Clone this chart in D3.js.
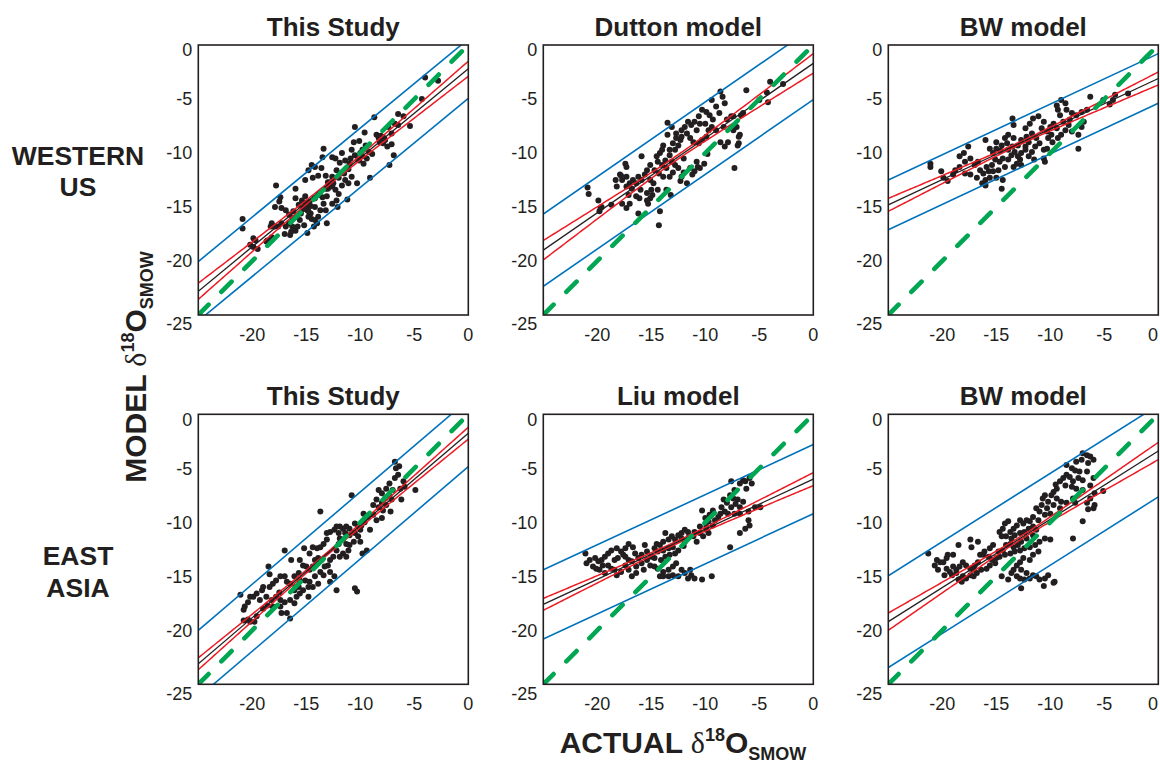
<!DOCTYPE html>
<html>
<head>
<meta charset="utf-8">
<script src="https://cdn.jsdelivr.net/npm/d3@7"></script>
<style>
  body { margin: 0; background: #ffffff; }
  svg { display: block; }
</style>
</head>
<body>
<svg id="chart" width="1160" height="763"></svg>
<script>
// ---- Panel text -----------------------------------------------------------
const panelTitles = ["This Study", "Dutton model", "BW model", "This Study", "Liu model", "BW model"];
const rowLabels = [["WESTERN", "US"], ["EAST", "ASIA"]];
const yTickValues = [0, -5, -10, -15, -20, -25];
const xTickValues = [-20, -15, -10, -5, 0];

// ---- Regression summaries (model value at actual = -25 and actual = 0) ----
const fitAtMinus25 = [-22.8, -19.0, -14.8, -23.1, -17.6, -19.2];
const fitAtZero    = [-2.2, -1.7, -3.1, -1.75, -6.0, -3.4];
// 95% confidence band half-widths (left end, right end, at mean of actual)
const confHalfLeft  = [0.75, 0.9, 0.6, 0.55, 0.55, 0.8];
const confHalfRight = [0.7, 0.9, 0.6, 0.55, 0.6, 0.8];
const confHalfMid   = [0.15, 0.2, 0.12, 0.12, 0.12, 0.15];
// 95% prediction band half-width
const predHalf = [2.75, 3.35, 2.3, 3.1, 3.2, 4.25];
// 1:1 reference line runs from -25 up to this value
const oneToOneEnd = -0.6;

// ---- Station values: [actual d18O, model d18O] -----------------------------
const wusThisStudy = [
  [-4.0,-3.0],[-2.8,-3.3],[-4.3,-5.0],[-6.5,-6.4],[-6.0,-6.6],[-8.7,-6.7],[-5.4,-7.5],[-6.8,-7.3],[-7.4,-7.6],[-7.1,-8.2],
  [-8.0,-8.5],[-7.7,-8.8],[-8.3,-8.6],[-8.5,-8.3],[-7.5,-9.4],[-7.1,-9.2],[-6.9,-10.2],[-7.3,-11.1],[-9.1,-12.3],[-10.5,-7.6],
  [-10.6,-9.0],[-10.1,-8.9],[-9.5,-9.3],[-9.8,-9.7],[-9.2,-9.9],[-8.9,-10.1],[-9.4,-10.5],[-9.7,-11.0],[-10.1,-10.7],[-10.5,-10.2],
  [-10.8,-9.7],[-10.9,-10.5],[-11.4,-10.7],[-11.7,-10.0],[-11.9,-10.9],[-12.3,-10.5],[-12.6,-10.4],[-12.2,-11.6],[-11.5,-11.9],[-11.1,-11.5],
  [-10.8,-12.2],[-10.3,-12.8],[-11.1,-12.8],[-11.4,-12.5],[-11.7,-13.0],[-12.5,-12.8],[-12.8,-13.1],[-13.2,-13.3],[-12.9,-13.0],[-12.6,-12.2],
  [-13.6,-11.4],[-13.5,-10.4],[-14.2,-11.3],[-14.8,-11.6],[-15.1,-12.5],[-14.4,-12.3],[-13.9,-12.1],[-13.2,-12.1],[-13.0,-12.7],[-12.3,-13.4],
  [-12.0,-13.8],[-11.2,-14.3],[-12.2,-14.4],[-12.1,-15.0],[-12.6,-14.7],[-13.1,-14.0],[-13.5,-14.1],[-13.9,-13.9],[-14.2,-14.2],[-14.7,-14.5],
  [-15.1,-14.0],[-15.4,-14.4],[-16.0,-13.3],[-16.0,-14.2],[-15.7,-14.8],[-15.2,-15.0],[-14.9,-15.3],[-14.6,-15.6],[-14.5,-16.1],[-14.2,-16.2],
  [-13.9,-15.9],[-13.7,-15.3],[-13.4,-14.7],[-13.2,-15.3],[-14.2,-15.0],[-14.8,-15.9],[-15.2,-16.7],[-14.9,-17.4],[-15.5,-15.6],[-15.9,-15.9],
  [-16.3,-16.0],[-16.6,-16.5],[-16.3,-16.8],[-16.9,-16.8],[-17.3,-16.5],[-17.6,-16.8],[-17.9,-16.8],[-18.2,-16.5],[-18.3,-16.8],[-18.2,-17.8],
  [-18.6,-18.1],[-18.7,-18.2],[-19.7,-18.1],[-19.9,-17.9],[-20.2,-18.5],[-20.9,-16.1],[-20.9,-17.0],[-17.8,-13.0],[-17.4,-14.1],[-17.5,-14.5],
  [-17.9,-15.0],[-17.3,-15.1],[-16.9,-15.3],[-16.6,-15.7],[-16.2,-15.4],[-15.6,-16.2],[-14.3,-16.8],[-13.4,-9.6],[-14.5,-11.1],[-15.8,-16.8],
  [-13.1,-16.5],[-14.0,-16.5],[-19.9,-18.7],[-19.5,-18.9],[-15.0,-15.0],[-14.8,-15.4],[-15.3,-15.2],[-14.6,-14.9],[-15.1,-14.6],[-8.0,-8.8],
  [-8.2,-9.0],[-7.8,-8.6],[-8.1,-8.4],[-7.9,-9.1],[-10.0,-10.0],[-10.2,-10.6],[-9.8,-10.3],[-12.6,-13.1],[-13.0,-13.3],[-12.8,-12.7],
  [-6.5,-7.4],[-9.6,-8.1],[-11.0,-11.0],[-12.0,-12.3],[-16.0,-17.2],[-17.0,-17.5],[-16.5,-17.6],[-16.4,-17.3]
];

const wusDutton = [
  [-6.2,-4.2],[-8.6,-4.3],[-8.4,-4.8],[-8.2,-5.4],[-9.4,-5.1],[-8.7,-6.3],[-9.0,-5.7],[-9.9,-6.2],[-9.6,-6.5],[-9.3,-6.9],
  [-10.3,-6.0],[-10.6,-6.6],[-11.0,-7.1],[-10.5,-7.3],[-10.0,-7.3],[-9.7,-7.9],[-9.4,-7.6],[-10.8,-7.9],[-11.3,-7.4],[-11.6,-7.1],
  [-11.9,-7.6],[-12.2,-7.9],[-11.7,-8.2],[-11.4,-8.6],[-11.1,-9.0],[-10.6,-9.1],[-10.3,-8.8],[-9.9,-8.5],[-9.0,-7.9],[-8.6,-9.0],
  [-8.2,-9.4],[-7.9,-9.0],[-7.4,-7.9],[-7.1,-7.6],[-6.8,-8.3],[-6.9,-9.1],[-6.5,-6.3],[-7.6,-6.6],[-8.0,-6.9],[-8.3,-7.6],
  [-7.3,-11.4],[-9.8,-10.1],[-10.1,-11.0],[-10.8,-10.8],[-10.5,-11.4],[-11.0,-11.7],[-11.4,-11.4],[-11.7,-12.8],[-12.2,-12.2],[-12.5,-11.4],
  [-12.8,-11.1],[-13.1,-10.8],[-13.3,-10.2],[-12.8,-9.7],[-12.5,-9.3],[-12.3,-8.8],[-12.7,-8.6],[-13.0,-9.1],[-13.3,-9.7],[-13.9,-9.3],
  [-14.0,-9.7],[-13.5,-8.3],[-13.1,-7.6],[-12.7,-8.2],[-12.2,-8.5],[-13.5,-7.2],[-14.2,-10.0],[-14.5,-10.3],[-14.4,-10.8],[-14.0,-11.1],
  [-13.7,-10.7],[-13.6,-11.4],[-13.3,-12.2],[-13.9,-12.2],[-14.3,-11.9],[-14.7,-11.6],[-15.1,-11.1],[-15.4,-11.6],[-15.6,-12.0],[-15.1,-12.5],
  [-14.8,-12.8],[-15.0,-13.4],[-15.4,-13.7],[-16.0,-13.4],[-16.4,-12.8],[-15.9,-12.5],[-16.2,-12.2],[-16.7,-12.5],[-17.0,-12.8],[-16.8,-13.3],
  [-17.3,-13.1],[-17.7,-12.5],[-18.3,-12.5],[-17.9,-12.0],[-17.3,-12.2],[-17.4,-11.0],[-15.9,-10.3],[-16.1,-14.2],[-16.4,-14.0],[-17.0,-14.7],
  [-17.7,-14.7],[-17.3,-15.1],[-16.2,-15.6],[-14.2,-15.4],[-14.3,-16.7],[-15.1,-14.2],[-15.4,-14.4],[-14.9,-13.9],[-14.4,-13.4],[-13.6,-13.4],
  [-13.2,-13.9],[-18.7,-14.8],[-19.6,-15.0],[-19.8,-15.4],[-19.9,-14.4],[-20.9,-13.2],[-20.8,-13.8],[-19.7,-15.1],[-15.3,-14.7],[-4.0,-3.4],
  [-2.8,-3.6],[-4.2,-5.3],[-5.0,-5.1],[-4.3,-4.4],[-6.9,-8.5],[-7.0,-9.3],[-7.4,-6.6],[-6.7,-6.5],[-17.3,-11.3],[-17.8,-12.1],
  [-18.2,-13.1],[-17.1,-13.9],[-12.0,-11.8],[-12.3,-12.6],[-11.2,-12.0],[-10.7,-11.3],[-13.0,-11.8],[-12.0,-10.5]
];

const wusBW = [
  [-21.1,-11.0],[-21.1,-11.3],[-20.1,-11.7],[-19.9,-12.3],[-19.0,-12.0],[-18.4,-11.3],[-17.9,-10.8],[-17.4,-10.5],[-17.6,-9.4],[-18.4,-10.3],
  [-18.0,-10.0],[-17.9,-11.9],[-17.4,-12.0],[-17.0,-11.1],[-16.7,-10.8],[-16.5,-11.6],[-16.2,-11.9],[-16.3,-12.8],[-16.0,-12.5],[-15.7,-11.7],
  [-15.9,-11.3],[-16.0,-8.8],[-15.6,-9.6],[-15.3,-10.0],[-15.0,-9.6],[-15.0,-9.0],[-14.5,-9.3],[-14.2,-8.6],[-13.9,-8.3],[-14.0,-9.1],
  [-13.9,-9.7],[-14.4,-10.5],[-14.7,-10.8],[-15.1,-10.6],[-15.4,-11.1],[-15.3,-11.7],[-14.8,-11.6],[-14.2,-11.3],[-13.4,-11.3],[-13.1,-11.0],
  [-13.0,-10.3],[-13.3,-9.9],[-13.5,-9.4],[-13.0,-9.3],[-12.7,-8.8],[-12.3,-9.4],[-12.3,-9.7],[-12.7,-10.0],[-12.0,-10.3],[-11.7,-9.9],
  [-11.4,-9.4],[-11.0,-9.1],[-10.6,-9.7],[-10.3,-9.6],[-11.3,-8.6],[-11.7,-8.2],[-12.2,-8.5],[-12.3,-7.7],[-11.9,-7.3],[-11.6,-6.8],
  [-11.1,-6.6],[-10.6,-7.1],[-10.8,-7.7],[-10.3,-8.0],[-10.0,-7.6],[-9.7,-7.3],[-9.4,-7.7],[-9.9,-8.3],[-9.3,-8.6],[-9.0,-8.3],
  [-8.6,-7.9],[-8.8,-7.1],[-9.1,-6.5],[-9.3,-6.0],[-9.4,-5.6],[-9.0,-5.1],[-8.6,-5.4],[-8.5,-6.0],[-8.0,-6.3],[-7.6,-6.5],
  [-7.1,-6.2],[-6.6,-6.0],[-6.9,-7.1],[-7.1,-7.6],[-7.4,-8.3],[-8.0,-8.0],[-8.3,-7.4],[-6.3,-4.8],[-5.1,-5.1],[-4.2,-5.1],
  [-4.0,-4.6],[-7.4,-9.6],[-13.5,-6.8],[-13.4,-7.4],[-13.4,-8.6],[-13.9,-10.6],[-14.5,-13.3],[-14.4,-12.5],[-15.0,-12.3],[-15.6,-12.3],
  [-16.0,-13.0],[-10.6,-10.5],[-10.5,-10.8],[-12.7,-11.1],[-2.8,-4.5],[-4.5,-5.5],[-12.8,-10.6],[-13.6,-10.2],[-11.5,-10.6],[-9.8,-9.0],
  [-18.8,-11.6],[-19.5,-12.6],[-16.8,-12.3],[-14.6,-9.8],[-12.0,-9.0],[-10.2,-8.6],[-8.2,-6.9]
];

const easThisStudy = [
  [-6.8,-4.4],[-6.7,-5.0],[-6.4,-4.8],[-6.5,-5.6],[-6.8,-5.9],[-6.0,-6.2],[-5.9,-6.7],[-6.3,-6.9],[-7.0,-7.0],[-7.3,-6.4],
  [-7.6,-6.9],[-7.3,-7.5],[-7.7,-7.8],[-8.0,-7.3],[-8.3,-7.0],[-8.5,-7.9],[-8.8,-8.4],[-8.3,-8.6],[-7.9,-8.9],[-7.6,-8.4],
  [-7.1,-7.9],[-6.2,-7.9],[-7.2,-9.0],[-8.0,-9.6],[-8.5,-9.8],[-8.8,-9.3],[-9.3,-9.5],[-9.6,-10.0],[-9.7,-9.2],[-9.9,-10.3],
  [-10.2,-10.4],[-10.5,-10.1],[-11.0,-10.6],[-11.3,-10.4],[-11.6,-10.6],[-11.9,-10.4],[-12.2,-10.4],[-12.4,-10.7],[-12.0,-11.0],[-11.4,-11.0],
  [-11.0,-11.2],[-10.5,-11.0],[-10.2,-11.3],[-10.0,-11.8],[-10.6,-11.8],[-11.0,-12.1],[-11.3,-12.0],[-11.6,-11.6],[-11.9,-11.5],[-12.8,-10.9],
  [-13.1,-11.0],[-13.1,-11.6],[-13.4,-12.0],[-13.7,-12.3],[-14.0,-12.4],[-14.4,-12.3],[-14.7,-12.9],[-15.2,-12.4],[-16.4,-13.5],[-17.0,-12.6],
  [-13.7,-9.0],[-10.8,-7.5],[-11.1,-12.6],[-11.6,-12.9],[-11.9,-13.2],[-12.2,-12.6],[-12.5,-13.2],[-12.8,-13.5],[-13.0,-14.0],[-13.3,-14.1],
  [-13.6,-13.5],[-13.9,-13.3],[-14.2,-13.5],[-14.4,-14.1],[-14.7,-14.4],[-15.0,-14.1],[-15.3,-14.0],[-15.7,-14.7],[-16.1,-15.0],[-15.6,-15.4],
  [-15.1,-15.4],[-14.7,-15.5],[-14.2,-15.0],[-13.7,-14.6],[-13.4,-14.9],[-12.8,-14.6],[-12.4,-15.0],[-12.8,-15.5],[-13.9,-15.7],[-14.4,-16.0],
  [-14.8,-16.0],[-15.3,-16.3],[-15.7,-16.0],[-16.1,-16.3],[-16.5,-15.7],[-16.8,-15.5],[-17.0,-15.0],[-17.4,-15.0],[-17.8,-15.4],[-18.1,-15.7],
  [-18.4,-16.0],[-18.4,-14.8],[-18.5,-14.1],[-19.0,-16.0],[-19.1,-16.3],[-19.6,-16.6],[-19.9,-16.9],[-20.2,-16.9],[-20.4,-17.4],[-20.7,-17.8],
  [-20.8,-18.1],[-21.1,-16.7],[-19.3,-17.2],[-18.7,-16.9],[-18.2,-17.2],[-17.8,-16.9],[-17.4,-17.2],[-17.0,-17.4],[-16.5,-17.2],[-15.9,-16.9],
  [-15.6,-16.6],[-17.4,-17.8],[-17.3,-18.4],[-16.8,-18.4],[-16.5,-18.9],[-19.6,-18.7],[-20.2,-19.2],[-12.2,-16.3],[-10.5,-16.1],[-10.3,-16.4],
  [-11.3,-13.2],[-9.8,-12.9],[-9.4,-12.6],[-15.6,-13.5],[-14.8,-16.9],[-16.1,-17.5],[-18.1,-17.8],[-18.6,-17.7],[-19.0,-18.0],[-10.0,-10.7],
  [-9.1,-10.7],[-20.8,-19.1],[-20.4,-19.0],[-19.8,-19.2],[-4.9,-7.0],[-8.0,-8.2],[-12.0,-12.0],[-17.5,-16.5],[-16.0,-16.0]
];

const easLiu = [
  [-5.9,-5.9],[-5.7,-6.4],[-6.5,-6.1],[-6.8,-6.4],[-6.2,-6.9],[-7.6,-6.2],[-7.3,-7.0],[-7.7,-7.5],[-7.4,-7.8],[-7.0,-7.9],
  [-6.5,-8.1],[-6.8,-8.6],[-7.6,-8.6],[-8.0,-8.2],[-8.3,-7.9],[-8.5,-8.6],[-8.2,-9.0],[-7.9,-9.2],[-7.3,-9.2],[-6.8,-9.2],
  [-6.0,-9.0],[-5.4,-8.6],[-4.9,-8.6],[-6.0,-9.8],[-5.9,-10.3],[-6.3,-10.6],[-6.8,-11.0],[-7.7,-12.3],[-9.3,-8.9],[-9.6,-9.3],
  [-10.3,-8.9],[-10.0,-9.6],[-9.7,-9.9],[-9.1,-9.8],[-8.8,-9.5],[-9.3,-10.3],[-9.9,-10.4],[-10.5,-10.4],[-11.0,-10.9],[-10.5,-11.0],
  [-10.2,-11.3],[-10.8,-11.8],[-11.1,-11.3],[-11.6,-10.9],[-11.9,-10.7],[-12.2,-11.0],[-12.5,-11.2],[-12.2,-11.5],[-11.9,-11.8],[-12.8,-11.6],
  [-13.1,-11.3],[-13.4,-11.6],[-13.7,-11.0],[-13.9,-11.8],[-14.2,-12.1],[-14.5,-12.0],[-14.7,-12.4],[-14.4,-12.7],[-13.9,-12.6],[-13.4,-12.4],
  [-13.0,-12.3],[-12.5,-12.6],[-12.8,-12.9],[-13.3,-13.0],[-13.7,-13.2],[-14.1,-13.5],[-14.7,-13.3],[-15.0,-13.2],[-15.4,-12.7],[-15.6,-12.1],
  [-15.9,-13.0],[-16.2,-13.3],[-16.5,-12.9],[-16.7,-12.3],[-17.1,-12.0],[-17.4,-12.4],[-17.8,-12.7],[-18.2,-12.4],[-18.7,-12.6],[-19.0,-12.9],
  [-19.3,-13.2],[-19.6,-13.5],[-19.9,-13.6],[-20.2,-13.3],[-20.4,-14.1],[-20.1,-14.3],[-19.8,-14.4],[-19.5,-14.0],[-19.0,-14.0],[-18.7,-14.3],
  [-18.4,-14.4],[-18.2,-14.9],[-17.8,-14.6],[-17.4,-14.0],[-17.1,-13.5],[-16.8,-13.6],[-16.4,-14.1],[-15.9,-13.8],[-15.4,-13.5],[-15.1,-14.0],
  [-14.7,-14.1],[-14.4,-14.3],[-13.9,-14.6],[-13.4,-14.4],[-13.0,-14.1],[-12.7,-13.8],[-12.2,-14.4],[-11.9,-14.7],[-11.4,-14.4],[-11.3,-14.9],
  [-11.6,-15.2],[-11.0,-15.2],[-10.3,-15.3],[-9.4,-15.0],[-12.5,-15.0],[-13.0,-14.9],[-13.4,-15.0],[-13.9,-15.0],[-14.2,-15.0],[-9.7,-11.0],
  [-9.9,-10.7],[-21.1,-12.9],[-18.1,-13.3],[-17.4,-13.2],[-16.4,-14.7],[-16.8,-15.0],[-15.7,-14.4],[-18.4,-13.5],[-17.6,-13.0],[-21.0,-13.8],
  [-20.7,-13.5],[-19.3,-14.7],[-17.1,-14.4],[-6.3,-6.2],[-7.2,-8.3],[-8.6,-9.2],[-11.5,-11.3],[-12.0,-12.2]
];

const easBW = [
  [-7.0,-3.6],[-6.6,-3.8],[-6.3,-3.9],[-6.0,-4.2],[-7.1,-4.2],[-6.5,-4.5],[-7.6,-4.4],[-8.5,-4.7],[-7.7,-5.2],[-7.3,-5.3],
  [-6.6,-5.3],[-7.4,-5.9],[-7.0,-6.1],[-7.9,-6.2],[-8.2,-5.8],[-8.5,-5.6],[-8.8,-5.9],[-9.1,-6.2],[-8.6,-6.6],[-8.0,-6.7],
  [-7.6,-6.9],[-7.0,-7.0],[-6.3,-6.6],[-6.0,-5.9],[-5.9,-7.3],[-6.3,-7.8],[-6.6,-8.2],[-6.0,-8.7],[-7.0,-9.9],[-7.9,-11.5],
  [-9.4,-6.9],[-9.7,-7.2],[-9.9,-7.5],[-9.4,-7.8],[-9.0,-8.1],[-8.5,-8.2],[-7.9,-7.8],[-7.7,-8.2],[-9.1,-8.7],[-9.7,-8.4],
  [-10.2,-8.1],[-10.5,-7.5],[-10.7,-7.8],[-10.8,-8.4],[-10.3,-8.7],[-10.0,-9.2],[-10.5,-9.3],[-11.0,-9.0],[-11.3,-8.7],[-11.6,-9.5],
  [-11.1,-9.8],[-11.9,-9.9],[-12.2,-9.8],[-12.5,-10.1],[-12.8,-9.8],[-13.1,-10.3],[-13.4,-10.6],[-13.7,-10.9],[-13.9,-9.9],[-14.2,-10.1],
  [-14.4,-10.6],[-14.7,-10.9],[-14.5,-11.3],[-14.1,-11.3],[-13.6,-11.5],[-13.3,-11.2],[-12.8,-11.0],[-12.4,-10.9],[-12.0,-10.6],[-11.6,-10.4],
  [-11.3,-10.7],[-11.6,-11.2],[-12.2,-11.5],[-12.7,-11.8],[-13.0,-12.1],[-13.4,-12.3],[-13.7,-12.0],[-14.1,-12.1],[-14.4,-12.6],[-14.8,-12.7],
  [-15.3,-12.1],[-15.6,-12.4],[-16.1,-12.7],[-16.2,-13.0],[-15.7,-13.2],[-15.4,-13.5],[-15.0,-13.3],[-14.7,-13.2],[-14.2,-13.0],[-13.7,-12.9],
  [-13.3,-12.7],[-12.8,-12.6],[-12.4,-12.4],[-11.9,-12.3],[-11.4,-12.1],[-11.0,-11.8],[-10.5,-11.5],[-10.0,-11.6],[-11.1,-12.7],[-11.6,-13.0],
  [-11.9,-13.5],[-12.5,-13.3],[-12.8,-13.7],[-13.1,-14.0],[-13.4,-14.4],[-13.6,-14.7],[-13.1,-15.0],[-12.8,-15.2],[-12.4,-15.3],[-11.9,-15.2],
  [-11.6,-14.9],[-11.3,-15.0],[-11.0,-15.3],[-10.5,-15.2],[-10.2,-14.9],[-9.6,-15.5],[-12.2,-14.7],[-12.7,-14.4],[-13.9,-15.3],[-16.7,-11.8],
  [-17.3,-12.3],[-17.4,-11.6],[-16.5,-13.0],[-16.7,-13.7],[-17.0,-14.0],[-17.1,-14.4],[-17.4,-14.3],[-17.8,-14.0],[-18.1,-13.7],[-18.4,-14.1],
  [-18.7,-14.4],[-19.0,-14.1],[-19.3,-14.6],[-19.6,-14.3],[-19.9,-13.7],[-20.2,-13.7],[-20.5,-13.5],[-20.7,-14.0],[-20.4,-14.4],[-19.8,-14.9],
  [-19.1,-14.9],[-18.7,-14.7],[-18.1,-15.0],[-17.8,-15.2],[-17.4,-14.9],[-17.1,-15.0],[-16.8,-14.7],[-16.4,-14.4],[-15.9,-14.3],[-15.6,-14.0],
  [-15.1,-13.8],[-18.5,-12.1],[-19.0,-13.0],[-19.5,-13.0],[-19.6,-13.3],[-21.3,-12.9],[-18.2,-15.5],[-18.5,-15.3],[-14.5,-15.0],[-5.1,-7.1],
  [-5.9,-8.4],[-6.5,-8.8],[-9.7,-15.6],[-10.6,-15.9],[-12.7,-16.1],[-8.0,-5.0],[-9.5,-6.5]
];

const panelData = [wusThisStudy, wusDutton, wusBW, easThisStudy, easLiu, easBW];

// ---- Layout -----------------------------------------------------------------
const colLeft = [198.3, 543.3, 888.3];
const rowTop = [45, 414.3];
const plotSize = 270;

const COLORS = {
  ink: "#231f20",
  pred: "#0072bc",
  conf: "#ed1c24",
  fit: "#231f20",
  oneToOne: "#00a651"
};
const SANS = "'Liberation Sans', Arial, Helvetica, sans-serif";
const WIDTH = 1160;

const svg = d3.select("#chart");

panelData.forEach((points, i) => {
  const col = i % 3, row = Math.floor(i / 3);
  const left = colLeft[col], top = rowTop[row];

  const x = d3.scaleLinear().domain([-25, 0]).range([left, left + plotSize]);
  const y = d3.scaleLinear().domain([-25, 0]).range([top + plotSize, top]);

  const g = svg.append("g").attr("class", "panel");
  const clipId = "clip" + i;
  svg.append("clipPath").attr("id", clipId)
    .append("rect")
    .attr("x", left).attr("y", top)
    .attr("width", plotSize).attr("height", plotSize);

  // fitted line helpers
  const slope = (fitAtZero[i] - fitAtMinus25[i]) / 25;
  const fit = v => fitAtZero[i] + slope * v;
  const xMean = d3.mean(points, d => d[0]);
  const confHalf = v => {
    const mid = confHalfMid[i];
    const end = v < xMean ? confHalfLeft[i] : confHalfRight[i];
    const span = v < xMean ? (-25 - xMean) : (0 - xMean);
    const t = (v - xMean) / span;
    return Math.sqrt(mid * mid + (end * end - mid * mid) * t * t);
  };
  const grid = d3.range(-25, 0.0001, 0.25);

  // station points
  g.append("g")
    .selectAll("circle")
    .data(points)
    .join("circle")
    .attr("cx", d => x(d[0]))
    .attr("cy", d => y(d[1]))
    .attr("r", 3)
    .attr("fill", COLORS.ink);

  const overlay = g.append("g").attr("clip-path", `url(#${clipId})`);

  // prediction band
  [1, -1].forEach(s => {
    overlay.append("line")
      .attr("x1", x(-25)).attr("y1", y(fit(-25) + s * predHalf[i]))
      .attr("x2", x(0)).attr("y2", y(fit(0) + s * predHalf[i]))
      .attr("stroke", COLORS.pred).attr("stroke-width", 1.6);
  });

  // confidence band
  const lineGen = d3.line().x(d => x(d[0])).y(d => y(d[1]));
  [1, -1].forEach(s => {
    overlay.append("path")
      .attr("d", lineGen(grid.map(v => [v, fit(v) + s * confHalf(v)])))
      .attr("fill", "none")
      .attr("stroke", COLORS.conf).attr("stroke-width", 1.5);
  });

  // regression line
  overlay.append("line")
    .attr("x1", x(-25)).attr("y1", y(fit(-25)))
    .attr("x2", x(0)).attr("y2", y(fit(0)))
    .attr("stroke", COLORS.fit).attr("stroke-width", 1.3);

  // 1:1 line
  const pxLen = Math.hypot(x(oneToOneEnd) - x(-25), y(oneToOneEnd) - y(-25));
  const nDash = 12, dashLen = 14.5;
  const gapLen = (pxLen - nDash * dashLen) / (nDash - 1);
  overlay.append("line")
    .attr("x1", x(-25)).attr("y1", y(-25))
    .attr("x2", x(oneToOneEnd)).attr("y2", y(oneToOneEnd))
    .attr("stroke", COLORS.oneToOne)
    .attr("stroke-width", 4.6)
    .attr("stroke-linecap", "round")
    .attr("stroke-dasharray", `${dashLen},${gapLen}`);

  // frame
  g.append("rect")
    .attr("x", left).attr("y", top)
    .attr("width", plotSize).attr("height", plotSize)
    .attr("fill", "none")
    .attr("stroke", COLORS.ink).attr("stroke-width", 1.6);

  // y tick labels
  g.append("g").selectAll("text")
    .data(yTickValues)
    .join("text")
    .attr("x", left - 6)
    .attr("y", d => y(d) + (d === 0 ? 5 : d === -25 ? 9 : 0))
    .attr("dy", "0.35em")
    .attr("text-anchor", "end")
    .attr("font-family", SANS)
    .attr("font-size", 18)
    .attr("fill", COLORS.ink)
    .text(d => d === 0 ? "0" : "-" + Math.abs(d));

  // x tick labels (kept inside the page at the right edge)
  g.append("g").selectAll("text")
    .data(xTickValues)
    .join("text")
    .attr("x", d => Math.min(x(d), WIDTH - 7))
    .attr("y", top + plotSize + 26)
    .attr("text-anchor", "middle")
    .attr("font-family", SANS)
    .attr("font-size", 18)
    .attr("fill", COLORS.ink)
    .text(d => d === 0 ? "0" : "-" + Math.abs(d));

  // panel title
  g.append("text")
    .attr("x", left + plotSize / 2)
    .attr("y", top - 9)
    .attr("text-anchor", "middle")
    .attr("font-family", SANS)
    .attr("font-weight", "bold")
    .attr("font-size", 26)
    .attr("fill", COLORS.ink)
    .text(panelTitles[i]);
});

// row labels
const rowLabelY = [[165, 196], [565, 597]];
rowLabels.forEach((lines, r) => {
  lines.forEach((t, k) => {
    svg.append("text")
      .attr("x", 78)
      .attr("y", rowLabelY[r][k])
      .attr("text-anchor", "middle")
      .attr("font-family", SANS)
      .attr("font-weight", "bold")
      .attr("font-size", 26.5)
      .attr("fill", COLORS.ink)
      .text(t);
  });
});

// axis titles with delta notation
function isotopeLabel(sel, word) {
  sel.attr("font-family", SANS)
    .attr("font-weight", "bold")
    .attr("font-size", 30)
    .attr("fill", COLORS.ink);
  sel.append("tspan").text(word + " ");
  sel.append("tspan")
    .attr("font-family", "'Liberation Serif', 'Times New Roman', serif")
    .attr("font-weight", "normal")
    .text("\u03B4");
  sel.append("tspan").attr("font-size", 18).attr("dy", -12).text("18");
  sel.append("tspan").attr("dy", 12).text("O");
  sel.append("tspan").attr("font-size", 18).attr("dy", 7).text("SMOW");
}

svg.append("text")
  .attr("x", 683)
  .attr("y", 753)
  .attr("text-anchor", "middle")
  .call(isotopeLabel, "ACTUAL");

svg.append("text")
  .attr("transform", "translate(146,367) rotate(-90)")
  .attr("text-anchor", "middle")
  .call(isotopeLabel, "MODEL");
</script>
</body>
</html>
